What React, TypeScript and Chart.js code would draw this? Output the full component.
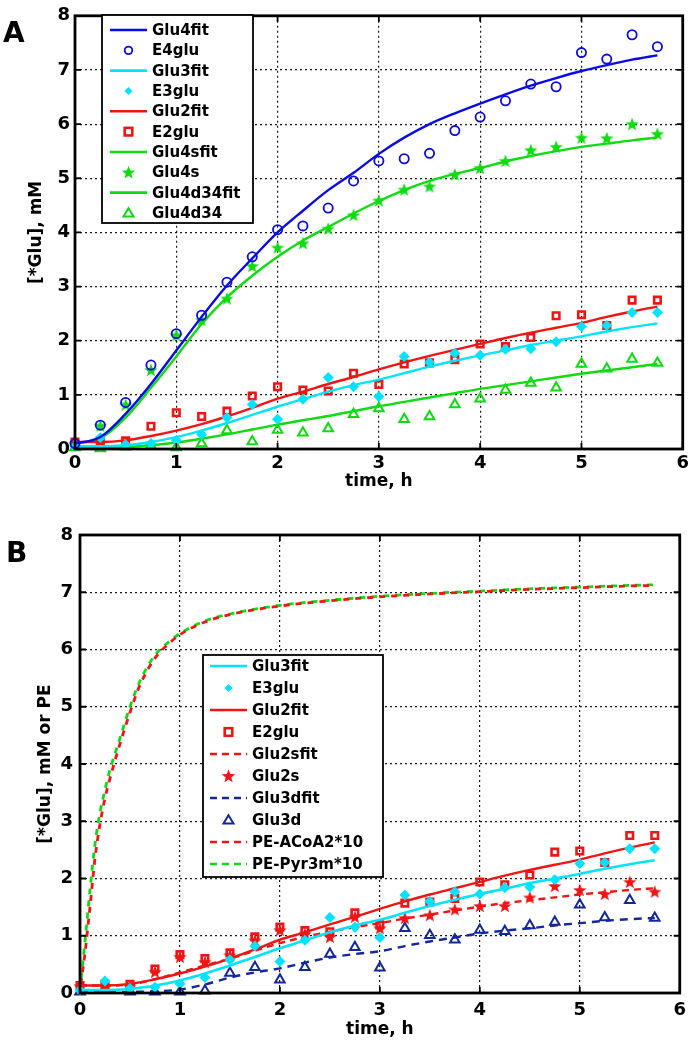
import React, { useEffect, useRef } from 'react';
import { Chart, registerables } from 'chart.js';
Chart.register(...registerables);

// ---------- data ----------
const timeH = [0, 0.25, 0.5, 0.75, 1, 1.25, 1.5, 1.75, 2, 2.25, 2.5, 2.75, 3, 3.25, 3.5, 3.75, 4, 4.25, 4.5, 4.75, 5, 5.25, 5.5, 5.75];

// Panel A
const glu4fit = [0.1, 0.22, 0.65, 1.2, 1.82, 2.44, 3.02, 3.52, 4.0, 4.4, 4.78, 5.1, 5.45, 5.75, 6.0, 6.2, 6.38, 6.55, 6.71, 6.85, 6.98, 7.09, 7.19, 7.27];
const e4glu = [0.1, 0.44, 0.86, 1.55, 2.13, 2.47, 3.08, 3.55, 4.05, 4.12, 4.45, 4.95, 5.32, 5.36, 5.46, 5.88, 6.13, 6.43, 6.74, 6.69, 7.32, 7.2, 7.65, 7.43];
const glu3fit = [0.05, 0.05, 0.07, 0.13, 0.22, 0.34, 0.48, 0.63, 0.78, 0.92, 1.06, 1.18, 1.28, 1.4, 1.52, 1.63, 1.73, 1.82, 1.92, 2.0, 2.08, 2.17, 2.25, 2.32];
const e3glu = [0.05, 0.21, 0.08, 0.1, 0.16, 0.27, 0.58, 0.82, 0.55, 0.92, 1.32, 1.15, 0.97, 1.71, 1.6, 1.77, 1.73, 1.84, 1.85, 1.98, 2.26, 2.28, 2.52, 2.52];
const glu2fit = [0.13, 0.13, 0.16, 0.24, 0.34, 0.46, 0.6, 0.76, 0.93, 1.06, 1.2, 1.33, 1.47, 1.6, 1.72, 1.83, 1.94, 2.05, 2.15, 2.24, 2.33, 2.44, 2.54, 2.63];
const e2glu = [0.13, 0.15, 0.15, 0.42, 0.67, 0.6, 0.7, 0.98, 1.15, 1.09, 1.07, 1.4, 1.19, 1.57, 1.59, 1.65, 1.94, 1.89, 2.06, 2.46, 2.48, 2.28, 2.75, 2.75];
const glu4sfit = [0.1, 0.2, 0.58, 1.13, 1.71, 2.31, 2.8, 3.2, 3.55, 3.85, 4.1, 4.35, 4.58, 4.78, 4.95, 5.08, 5.19, 5.31, 5.41, 5.5, 5.58, 5.64, 5.7, 5.75];
const glu4s = [0.1, 0.43, 0.82, 1.46, 2.1, 2.38, 2.78, 3.38, 3.72, 3.8, 4.07, 4.32, 4.59, 4.79, 4.85, 5.07, 5.19, 5.32, 5.52, 5.58, 5.75, 5.74, 6.0, 5.82];
const glu4d34fit = [0.02, 0.02, 0.04, 0.07, 0.12, 0.19, 0.27, 0.36, 0.45, 0.53, 0.61, 0.7, 0.79, 0.87, 0.95, 1.03, 1.11, 1.18, 1.25, 1.32, 1.39, 1.45, 1.51, 1.57];
const glu4d34 = [0.03, 0.01, 0.04, 0.06, 0.03, 0.1, 0.34, 0.14, 0.35, 0.3, 0.38, 0.64, 0.75, 0.55, 0.6, 0.82, 0.93, 1.09, 1.22, 1.13, 1.57, 1.48, 1.66, 1.59];

// Panel B
const glu2sfit = [0.13, 0.13, 0.15, 0.24, 0.36, 0.48, 0.6, 0.74, 0.87, 0.98, 1.07, 1.15, 1.22, 1.3, 1.37, 1.44, 1.51, 1.57, 1.62, 1.67, 1.72, 1.76, 1.8, 1.83];
const glu2s = [0.12, 0.12, 0.11, 0.37, 0.63, 0.54, 0.66, 0.92, 1.1, 1.03, 0.98, 1.33, 1.13, 1.31, 1.36, 1.46, 1.52, 1.52, 1.67, 1.87, 1.8, 1.73, 1.94, 1.77];
const glu3dfit = [0.02, 0.02, 0.02, 0.03, 0.06, 0.15, 0.27, 0.36, 0.43, 0.53, 0.62, 0.68, 0.73, 0.82, 0.9, 0.97, 1.04, 1.09, 1.13, 1.18, 1.22, 1.26, 1.29, 1.31];
const glu3d = [0.02, 0.08, 0.02, 0.02, 0.02, 0.04, 0.35, 0.45, 0.23, 0.45, 0.68, 0.8, 0.44, 1.13, 1.01, 0.93, 1.1, 1.08, 1.18, 1.24, 1.54, 1.32, 1.62, 1.31];
const peTime = [0, 0.05, 0.1, 0.15, 0.2, 0.25, 0.3, 0.4, 0.5, 0.6, 0.75, 0.9, 1, 1.25, 1.5, 2, 2.5, 3, 3.5, 4, 4.5, 5, 5.5, 5.75];
const peACoA2x10 = [0.05, 0.7, 1.5, 2.35, 2.95, 3.4, 3.75, 4.35, 4.9, 5.38, 5.85, 6.12, 6.26, 6.48, 6.61, 6.76, 6.85, 6.92, 6.97, 7.01, 7.05, 7.08, 7.11, 7.12];
const pePyr3mx10 = [0.05, 0.9, 1.8, 2.6, 3.15, 3.55, 3.9, 4.45, 5.0, 5.45, 5.9, 6.15, 6.28, 6.5, 6.62, 6.77, 6.86, 6.93, 6.98, 7.02, 7.06, 7.09, 7.12, 7.13];

const xTickValues = [0, 1, 2, 3, 4, 5, 6];
const yTickValues = [0, 1, 2, 3, 4, 5, 6, 7, 8];

// ---------- styles ----------
const BLUE = '#0a0ae8';
const CYAN = '#00e4ff';
const RED = '#f01414';
const GREEN = '#0edc0e';
const NAVY = '#14289a';
const FONT = 'DejaVu Sans';

function pentagramPath(ctx: CanvasRenderingContext2D, cx: number, cy: number, R: number) {
  const r = R * 0.42;
  ctx.beginPath();
  for (let i = 0; i < 10; i++) {
    const rad = i % 2 === 0 ? R : r;
    const a = -Math.PI / 2 + (i * Math.PI) / 5;
    const px = cx + rad * Math.cos(a);
    const py = cy + rad * Math.sin(a);
    if (i === 0) ctx.moveTo(px, py);
    else ctx.lineTo(px, py);
  }
  ctx.closePath();
}

function makeStar(color: string, size: number) {
  const c = document.createElement('canvas');
  c.width = size;
  c.height = size;
  const ctx = c.getContext('2d')!;
  ctx.fillStyle = color;
  pentagramPath(ctx, size / 2, size / 2 + 0.6, size / 2);
  ctx.fill();
  return c;
}

function drawMarker(ctx: CanvasRenderingContext2D, mk: string, x: number, y: number, color: string) {
  ctx.save();
  ctx.setLineDash([]);
  ctx.strokeStyle = color;
  ctx.fillStyle = color;
  if (mk === 'circle') {
    ctx.lineWidth = 1.8;
    ctx.beginPath();
    ctx.arc(x, y, 3.8, 0, Math.PI * 2);
    ctx.stroke();
  } else if (mk === 'rect') {
    ctx.lineWidth = 2.6;
    ctx.strokeRect(x - 3.8, y - 3.8, 7.6, 7.6);
  } else if (mk === 'diamond') {
    ctx.beginPath();
    ctx.moveTo(x, y - 4);
    ctx.lineTo(x + 4, y);
    ctx.lineTo(x, y + 4);
    ctx.lineTo(x - 4, y);
    ctx.closePath();
    ctx.fill();
  } else if (mk === 'star') {
    pentagramPath(ctx, x, y + 0.5, 7);
    ctx.fill();
  } else if (mk === 'triangle') {
    ctx.lineWidth = 2;
    ctx.beginPath();
    ctx.moveTo(x, y - 4.8);
    ctx.lineTo(x + 5, y + 3.6);
    ctx.lineTo(x - 5, y + 3.6);
    ctx.closePath();
    ctx.stroke();
  }
  ctx.restore();
}

const toPts = (xs: number[], ys: number[]) => xs.map((x, i) => ({ x, y: ys[i] }));

function fitDs(label: string, xs: number[], ys: number[], color: string, dash: number[] = [], dashOffset = 0, width = 2.4) {
  return {
    label,
    data: toPts(xs, ys),
    borderColor: color,
    backgroundColor: color,
    borderWidth: width,
    borderDash: dash,
    borderDashOffset: dashOffset,
    pointRadius: 0,
    showLine: true,
    tension: 0,
    cubicInterpolationMode: 'monotone',
    fill: false,
  } as any;
}

function markDs(label: string, xs: number[], ys: number[], color: string, mk: string, pointStyle: any) {
  const filled = mk === 'diamond';
  return {
    label,
    mk,
    data: toPts(xs, ys),
    showLine: false,
    borderColor: color,
    backgroundColor: filled ? color : 'rgba(0,0,0,0)',
    pointStyle,
    pointRadius: mk === 'triangle' ? 5.5 : mk === 'diamond' ? 4.2 : 4.6,
    pointBorderWidth: mk === 'rect' ? 2.6 : mk === 'triangle' ? 2 : 1.8,
    pointBorderColor: color,
    pointBackgroundColor: filled ? color : 'rgba(0,0,0,0)',
  } as any;
}

const framePlugin = {
  id: 'matFrame',
  afterDatasetsDraw(chart: any) {
    const { ctx, chartArea: a, scales } = chart;
    ctx.save();
    ctx.setLineDash([]);
    ctx.strokeStyle = '#000';
    ctx.lineWidth = 1.8;
    xTickValues.forEach((v) => {
      const px = scales.x.getPixelForValue(v);
      ctx.beginPath();
      ctx.moveTo(px, a.bottom);
      ctx.lineTo(px, a.bottom - 6);
      ctx.moveTo(px, a.top);
      ctx.lineTo(px, a.top + 6);
      ctx.stroke();
    });
    yTickValues.forEach((v) => {
      const py = scales.y.getPixelForValue(v);
      ctx.beginPath();
      ctx.moveTo(a.left, py);
      ctx.lineTo(a.left + 6, py);
      ctx.moveTo(a.right, py);
      ctx.lineTo(a.right - 6, py);
      ctx.stroke();
    });
    ctx.lineWidth = 2.8;
    ctx.strokeRect(a.left, a.top, a.right - a.left, a.bottom - a.top);
    ctx.restore();
  },
};

const legendPlugin = {
  id: 'matLegend',
  afterDraw(chart: any, _args: any, opts: any) {
    if (!opts || !opts.box) return;
    const { ctx } = chart;
    const { box, firstRow, rowH, lineX0, lineX1, textX } = opts;
    ctx.save();
    ctx.fillStyle = '#fff';
    ctx.fillRect(box.l, box.t, box.r - box.l, box.b - box.t);
    ctx.strokeStyle = '#000';
    ctx.lineWidth = 1.8;
    ctx.setLineDash([]);
    ctx.strokeRect(box.l, box.t, box.r - box.l, box.b - box.t);
    ctx.font = `bold 15px "${FONT}"`;
    ctx.textBaseline = 'middle';
    ctx.textAlign = 'left';
    chart.data.datasets.forEach((ds: any, i: number) => {
      const y = firstRow + i * rowH;
      if (ds.showLine) {
        ctx.save();
        ctx.strokeStyle = ds.borderColor;
        ctx.lineWidth = 2.6;
        ctx.setLineDash(ds.borderDash && ds.borderDash.length ? [7, 5] : []);
        ctx.beginPath();
        ctx.moveTo(lineX0, y);
        ctx.lineTo(lineX1, y);
        ctx.stroke();
        ctx.restore();
      } else {
        drawMarker(ctx, ds.mk, (lineX0 + lineX1) / 2, y, ds.borderColor);
      }
      ctx.fillStyle = '#000';
      ctx.fillText(ds.label, textX, y + 1);
    });
    ctx.restore();
  },
};

function makeOptions(cfg: any) {
  return {
    responsive: false,
    animation: false,
    clip: false,
    events: [],
    layout: { padding: cfg.padding },
    plugins: {
      legend: { display: false },
      tooltip: { enabled: false },
      matLegend: cfg.legend,
    },
    scales: {
      x: {
        type: 'linear',
        min: 0,
        max: 6,
        afterFit: (s: any) => { s.height = cfg.xAxisH; },
        afterBuildTicks: (s: any) => { s.ticks = xTickValues.map((v) => ({ value: v })); },
        ticks: { color: '#000', padding: cfg.xTickPad, font: { family: FONT, weight: 'bold', size: 18 }, maxRotation: 0 },
        grid: { color: 'rgba(0,0,0,0.9)', lineWidth: 1.2, drawTicks: false },
        border: { display: false, dash: [2, 3] },
        title: { display: true, text: 'time, h', color: '#000', font: { family: FONT, weight: 'bold', size: 17 }, padding: { top: 0, bottom: cfg.xTitlePad } },
      },
      y: {
        type: 'linear',
        min: 0,
        max: 8,
        afterFit: (s: any) => { s.width = cfg.yAxisW; },
        afterBuildTicks: (s: any) => { s.ticks = yTickValues.map((v) => ({ value: v })); },
        ticks: { color: '#000', padding: cfg.yTickPad, font: { family: FONT, weight: 'bold', size: 18 } },
        grid: { color: 'rgba(0,0,0,0.9)', lineWidth: 1.2, drawTicks: false },
        border: { display: false, dash: [2, 3] },
        title: { display: true, text: cfg.yTitle, color: '#000', font: { family: FONT, weight: 'bold', size: 17 }, padding: { top: cfg.yTitlePad, bottom: 0 } },
      },
    },
  } as any;
}

export default function App() {
  const refA = useRef<HTMLCanvasElement>(null);
  const refB = useRef<HTMLCanvasElement>(null);

  useEffect(() => {
    const starGreen = makeStar(GREEN, 14);
    const starRed = makeStar(RED, 14);

    const dsA = [
      fitDs('Glu4fit', timeH, glu4fit, BLUE),
      markDs('E4glu', timeH, e4glu, BLUE, 'circle', 'circle'),
      fitDs('Glu3fit', timeH, glu3fit, CYAN),
      markDs('E3glu', timeH, e3glu, CYAN, 'diamond', 'rectRot'),
      fitDs('Glu2fit', timeH, glu2fit, RED),
      markDs('E2glu', timeH, e2glu, RED, 'rect', 'rect'),
      fitDs('Glu4sfit', timeH, glu4sfit, GREEN),
      markDs('Glu4s', timeH, glu4s, GREEN, 'star', starGreen),
      fitDs('Glu4d34fit', timeH, glu4d34fit, GREEN),
      markDs('Glu4d34', timeH, glu4d34, GREEN, 'triangle', 'triangle'),
    ];

    const dsB = [
      fitDs('Glu3fit', timeH, glu3fit, CYAN, [], 0, 2.6),
      markDs('E3glu', timeH, e3glu, CYAN, 'diamond', 'rectRot'),
      fitDs('Glu2fit', timeH, glu2fit, RED),
      markDs('E2glu', timeH, e2glu, RED, 'rect', 'rect'),
      fitDs('Glu2sfit', timeH, glu2sfit, RED, [7, 5]),
      markDs('Glu2s', timeH, glu2s, RED, 'star', starRed),
      fitDs('Glu3dfit', timeH, glu3dfit, NAVY, [8, 6]),
      markDs('Glu3d', timeH, glu3d, NAVY, 'triangle', 'triangle'),
      fitDs('PE-ACoA2*10', peTime, peACoA2x10, RED, [6, 6], 6, 2.8),
      fitDs('PE-Pyr3m*10', peTime, pePyr3mx10, GREEN, [6, 6], 0, 2.8),
    ];

    const chartA = new Chart(refA.current!, {
      type: 'line',
      data: { datasets: dsA },
      options: makeOptions({
        padding: { left: 0, right: 9, top: 10, bottom: 11 },
        xAxisH: 50,
        yAxisW: 75,
        xTickPad: 4,
        yTickPad: 5,
        xTitlePad: 7,
        yTitlePad: 26,
        yTitle: '[*Glu], mM',
        legend: { box: { l: 102, t: 15, r: 253, b: 223 }, firstRow: 30, rowH: 20.33, lineX0: 110, lineX1: 147, textX: 152 },
      }),
      plugins: [framePlugin, legendPlugin],
    } as any);

    const chartB = new Chart(refB.current!, {
      type: 'line',
      data: { datasets: dsB },
      options: makeOptions({
        padding: { left: 0, right: 8, top: 25, bottom: 0 },
        xAxisH: 47,
        yAxisW: 80,
        xTickPad: 7,
        yTickPad: 7,
        xTitlePad: 0,
        yTitlePad: 35,
        yTitle: '[*Glu], mM or PE',
        legend: { box: { l: 203, t: 145, r: 383, b: 367 }, firstRow: 156, rowH: 22, lineX0: 210, lineX1: 247, textX: 252 },
      }),
      plugins: [framePlugin, legendPlugin],
    } as any);

    return () => {
      chartA.destroy();
      chartB.destroy();
    };
  }, []);

  const letter: React.CSSProperties = {
    position: 'absolute',
    fontFamily: `"${FONT}", sans-serif`,
    fontWeight: 'bold',
    fontSize: 28,
    lineHeight: '28px',
    color: '#000',
  };

  return (
    <div style={{ position: 'absolute', left: 0, top: 0, width: 693, height: 1040, background: '#fff' }}>
      <canvas ref={refA} width={693} height={510} style={{ position: 'absolute', left: 0, top: 0, width: 693, height: 510 }} />
      <canvas ref={refB} width={693} height={530} style={{ position: 'absolute', left: 0, top: 510, width: 693, height: 530 }} />
      <div style={{ ...letter, left: 3, top: 19 }}>A</div>
      <div style={{ ...letter, left: 6, top: 539 }}>B</div>
    </div>
  );
}
